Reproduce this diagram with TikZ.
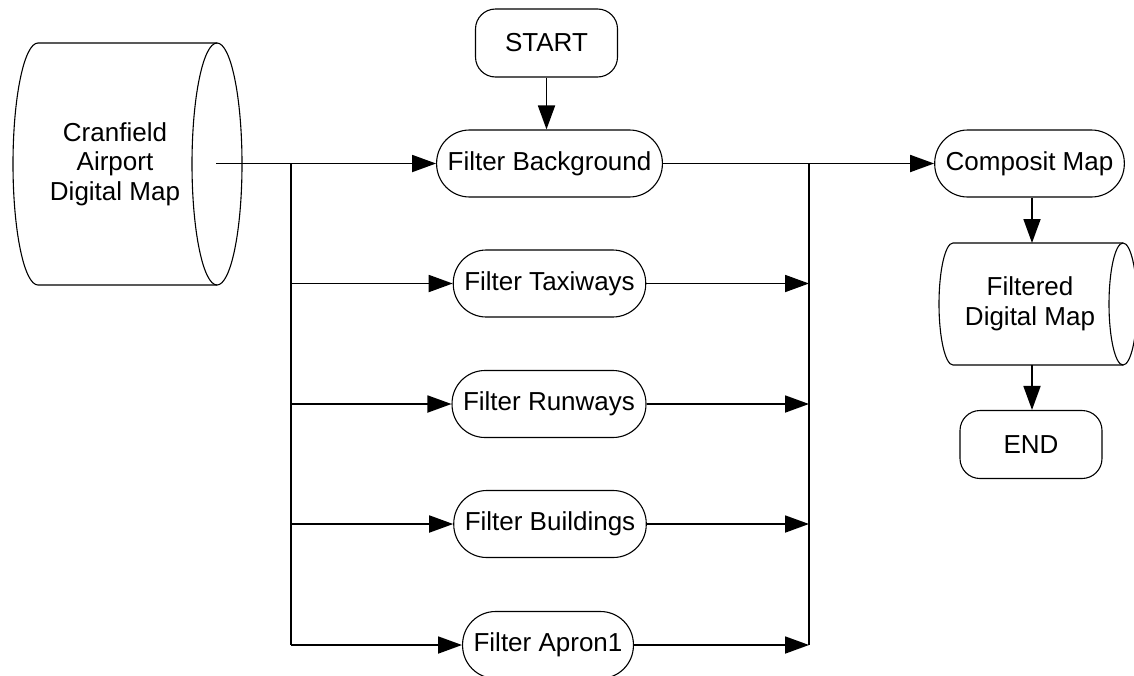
\documentclass[tikz,border=0pt]{standalone}
\usepackage{fontspec}
\setmainfont{Liberation Sans}
\usetikzlibrary{arrows.meta}
\begin{document}
\begin{tikzpicture}[x=1pt,y=-1pt,
  txt/.style={font=\fontsize{26}{29.5}\selectfont},
  term/.style={txt, draw, line width=1.1pt, rounded corners=20pt, minimum width=142pt, minimum height=68pt, inner sep=0pt},
  proc/.style={txt, draw, line width=1.1pt, rounded corners=33pt, minimum height=67pt, inner xsep=11pt, inner ysep=0pt},
  lbl/.style={txt, align=center, inner sep=0pt},
  shapeline/.style={line width=1.1pt},
  conn/.style={line width=1.8pt},
  arr/.style={conn, -{Triangle[length=24pt,width=17pt]}}
]
\useasboundingbox (0,0) rectangle (1134,675);
\clip (0,0) rectangle (1134,675);

% input store
\draw[shapeline] (217,43) -- (38,43) arc[start angle=90,end angle=270,x radius=25pt,y radius=121pt] -- (217,285);
\draw[shapeline] (217,164) ellipse[x radius=25pt, y radius=121pt];
\node[lbl] (map) at (115,164) {Cranfield\\Airport\\Digital Map};
\coordinate (mapout) at (216,163.5);

% process nodes
\node[term] (start) at (546.5,43) {START};
\node[proc] (bg) at (549.5,163.5) {Filter Background};
\node[proc] (tx) at (549.5,283.5) {Filter Taxiways};
\node[proc] (rw) at (549,404) {Filter Runways};
\node[proc] (bd) at (550,524) {Filter Buildings};
\node[proc] (ap) at (548,645) {Filter Apron1};
\node[proc] (cm) at (1029.5,163.5) {Composit Map};
\node[term] (end) at (1031,444.5) {END};

% output store
\draw[shapeline] (1123,243) -- (953,243) arc[start angle=90,end angle=270,x radius=14pt,y radius=61pt] -- (1123,365);
\draw[shapeline] (1123,304) ellipse[x radius=14pt, y radius=61pt];
\node[lbl] (fdm) at (1030,304) {Filtered\\Digital Map};
\coordinate (fdmtop) at (1032,243);
\coordinate (fdmbot) at (1032,365);

% buses
\coordinate (jl) at (291,163.5);
\coordinate (jlb) at (291,645);
\coordinate (jr) at (809,163.5);
\coordinate (jrb) at (809,645);

% connectors
\draw[arr] (start.south) -- (start.south |- bg.north);
\draw[arr] (mapout) -- (bg.west);
\draw[conn] (jl) -- (jlb);
\draw[arr] (jl |- tx) -- (tx.west);
\draw[arr] (jl |- rw) -- (rw.west);
\draw[arr] (jl |- bd) -- (bd.west);
\draw[arr] (jlb) -- (ap.west);
\draw[arr] (bg.east) -- (cm.west);
\draw[conn] (jr) -- (jrb);
\draw[arr] (tx.east) -- (jr |- tx);
\draw[arr] (rw.east) -- (jr |- rw);
\draw[arr] (bd.east) -- (jr |- bd);
\draw[arr] (ap.east) -- (jrb);
\draw[arr] (fdmtop |- cm.south) -- (fdmtop);
\draw[arr] (fdmbot) -- (fdmbot |- end.north);
\end{tikzpicture}
\end{document}
